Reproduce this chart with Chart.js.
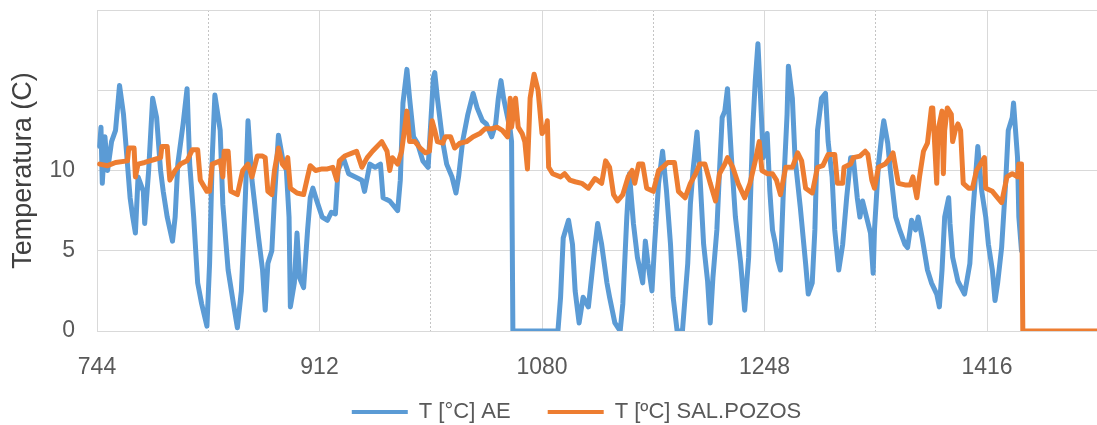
<!DOCTYPE html>
<html>
<head>
<meta charset="utf-8">
<script src="https://cdn.jsdelivr.net/npm/chart.js@4/dist/chart.umd.min.js"></script>
<style>
  html, body { margin: 0; padding: 0; background: #ffffff; }
  canvas { display: block; }
</style>
</head>
<body>
<canvas id="chart" width="1097" height="425"></canvas>
<script>
// Hourly temperature readings (hour of year, °C)
const aeHours = [746,747,748,750,752,755,758,761,764,767,769,771,773,775,779,780,783,786,789,792,794,797,801,803,805,809,812,814,817,820,823,827,829,831,833,837,839,843,847,850,853,856,858,861,866,869,871,873,876,878,881,884,887,889,890,893,895,897,900,903,905,907,910,914,918,921,924,926,930,934,939,944,946,950,954,958,960,965,971,973,975,978,980,983,986,990,994,998,999,1001,1005,1008,1012,1015,1017,1020,1024,1028,1031,1035,1038,1042,1045,1047,1049,1051,1054,1056,1057,1058,1092,1094,1096,1100,1103,1105,1108,1111,1115,1119,1122,1125,1129,1131,1135,1139,1141,1144,1146,1149,1152,1156,1158,1160,1163,1165,1168,1171,1174,1177,1179,1182,1186,1190,1192,1194,1197,1199,1202,1205,1207,1209,1212,1214,1216,1218,1220,1223,1226,1230,1233,1236,1239,1241,1243,1245,1247,1250,1252,1254,1256,1258,1260,1262,1265,1266,1269,1271,1275,1279,1281,1284,1286,1288,1291,1294,1296,1299,1301,1304,1307,1310,1313,1315,1318,1320,1322,1325,1328,1330,1331,1334,1337,1338,1341,1343,1347,1350,1354,1356,1359,1362,1364,1367,1371,1374,1378,1380,1382,1384,1387,1388,1390,1394,1399,1403,1405,1408,1409,1412,1415,1417,1420,1422,1424,1427,1430,1432,1435,1436,1439,1440,1442];
const aeTemps = [11.5,12.7,9.2,12.1,10.0,11.8,12.5,15.3,13.5,10.4,8.3,7.1,6.1,9.6,8.7,6.7,10.0,14.5,13.3,10.0,8.7,7.1,5.6,7.1,10.4,12.9,15.1,10.4,7.1,3.0,1.7,0.3,4.2,10.8,14.7,12.5,7.9,3.8,1.7,0.2,2.5,8.3,13.1,9.4,5.8,3.8,1.3,4.2,5.0,8.3,12.2,10.8,10.0,7.1,1.5,3.0,6.1,3.3,2.7,6.3,8.3,8.9,8.1,7.1,6.9,7.4,7.3,10.0,10.8,9.8,9.6,9.4,8.7,10.4,10.2,10.4,8.3,8.1,7.5,9.4,14.2,16.3,14.5,12.1,11.7,10.6,10.2,15.8,16.1,14.5,11.8,10.4,9.6,8.6,9.6,11.8,13.5,14.8,13.9,13.1,12.9,12.1,12.9,14.5,15.6,14.5,13.3,12.5,11.8,0,0,2.1,5.8,6.9,5.4,2.5,0.5,2.1,1.5,4.6,6.7,5.4,3.0,2.1,0.5,0,1.7,7.1,9.8,6.7,4.6,3.0,5.6,4.2,2.5,5.4,9.2,11.2,8.7,5.4,2.1,0,0,4.2,7.9,10.0,12.4,10.0,5.4,3.1,0.5,3.3,6.3,10.0,13.3,13.7,15.1,10.8,7.1,4.2,1.3,4.6,12.5,15.6,17.9,14.5,10.8,12.3,8.7,6.3,5.5,4.4,3.8,8.3,13.5,16.5,14.5,10.8,7.7,4.2,2.3,3.0,6.3,12.5,14.5,14.8,11.8,9.6,6.3,3.8,5.4,8.3,10.8,10.8,8.3,7.1,8.1,7.1,6.1,3.6,6.3,10.4,12.5,13.1,11.7,10.0,7.1,6.3,5.4,5.2,6.9,6.3,7.1,5.8,3.8,3.0,2.3,1.5,3.8,7.1,8.3,6.7,4.6,3.1,2.3,4.2,7.1,10.4,11.5,8.7,7.1,5.4,3.8,1.9,3.0,5.2,9.2,12.5,13.3,14.2,10.8,7.1,5.0];

const pozosHours = [746,752,758,767,768,772,773,775,780,788,792,793,797,798,799,803,807,812,816,820,822,827,829,831,837,839,840,843,845,850,854,858,861,865,869,871,873,876,878,881,884,886,888,890,895,900,903,905,909,914,918,922,925,927,931,937,940,944,948,952,959,963,965,967,971,974,978,980,984,988,992,995,997,999,1001,1005,1007,1011,1014,1018,1023,1028,1033,1037,1042,1046,1050,1054,1056,1057,1060,1062,1065,1067,1069,1071,1074,1077,1080,1083,1084,1085,1088,1094,1097,1101,1105,1110,1115,1120,1125,1128,1131,1134,1137,1141,1145,1148,1150,1153,1156,1159,1164,1168,1171,1175,1180,1183,1188,1192,1196,1199,1203,1207,1211,1214,1218,1220,1224,1228,1233,1237,1241,1244,1246,1250,1254,1257,1260,1264,1269,1273,1276,1279,1284,1288,1292,1296,1301,1303,1307,1308,1313,1315,1320,1324,1326,1329,1331,1334,1339,1343,1345,1349,1354,1358,1360,1363,1365,1368,1371,1374,1375,1378,1379,1382,1383,1384,1386,1389,1390,1392,1394,1396,1398,1402,1405,1408,1411,1414,1415,1420,1424,1427,1431,1435,1439,1440,1442,1443,1499];
const pozosTemps = [10.4,10.3,10.5,10.6,11.4,11.4,9.6,10.4,10.5,10.7,10.8,11.5,11.5,10.4,9.4,10.0,10.4,10.6,11.3,11.3,9.4,8.7,8.7,10.4,10.6,9.6,11.2,11.2,8.7,8.5,10.0,10.4,9.6,10.9,10.9,10.8,8.7,8.5,10.0,11.4,10.4,10.2,10.8,8.9,8.6,8.5,9.6,10.3,10.0,10.1,10.1,10.2,9.4,10.6,10.9,11.1,11.2,10.2,10.8,11.2,11.8,11.2,10.0,10.8,10.4,11.2,13.7,11.8,11.8,11.4,11.1,11.2,13.1,12.5,11.8,11.7,12.1,12.1,11.4,11.7,11.8,12.1,12.3,12.6,12.6,12.7,12.5,12.1,14.5,12.7,14.5,12.7,12.3,11.8,10.1,14.5,16.0,15.0,12.3,12.7,13.1,10.2,9.8,9.6,9.8,9.4,9.3,9.2,8.9,9.5,9.2,10.6,10.2,8.5,8.1,8.5,9.6,10.0,9.2,10.4,10.4,8.9,8.7,10.0,10.2,10.5,10.5,8.7,8.3,9.2,9.8,10.4,10.4,9.2,8.1,9.8,10.4,10.8,10.2,9.2,8.3,9.2,10.6,11.8,10.0,9.8,9.8,9.4,8.5,10.2,10.2,11.1,10.6,8.9,8.6,10.2,10.3,11.0,11.0,9.2,9.2,10.2,10.4,10.8,10.9,11.2,11.0,9.4,8.9,10.2,10.4,10.8,11.1,9.2,9.1,9.1,9.6,8.3,9.6,11.2,11.7,13.9,13.9,9.2,12.5,13.7,9.8,12.5,13.9,13.5,11.8,12.5,12.9,12.5,9.2,8.9,8.9,10.0,10.4,10.8,8.9,8.7,8.3,8.0,9.6,9.8,9.6,10.4,10.4,0,0];

// Axis ticks: one every 84 h, labels every 168 h
const xTickHours = [744, 828, 912, 996, 1080, 1164, 1248, 1332, 1416];
const xLabelHours = [744, 912, 1080, 1248, 1416];
const yLabelValues = [0, 5, 10];

const FONT = 'Liberation Sans, Arial, sans-serif';
const GRID = '#d9d9d9';
const TEXT = '#595959';

function toPoints(xs, ys) {
  return xs.map((x, i) => ({ x: x, y: ys[i] }));
}

new Chart(document.getElementById('chart'), {
  type: 'line',
  data: {
    datasets: [
      {
        label: 'T [°C] AE',
        data: toPoints(aeHours, aeTemps),
        borderColor: '#5B9BD5',
        backgroundColor: '#5B9BD5',
        borderWidth: 5,
        pointRadius: 0,
        tension: 0,
        borderJoinStyle: 'round',
        borderCapStyle: 'round',
        order: 2
      },
      {
        label: 'T [ºC] SAL.POZOS',
        data: toPoints(pozosHours, pozosTemps),
        borderColor: '#ED7D31',
        backgroundColor: '#ED7D31',
        borderWidth: 5,
        pointRadius: 0,
        tension: 0,
        borderJoinStyle: 'round',
        borderCapStyle: 'round',
        order: 1
      }
    ]
  },
  options: {
    responsive: false,
    animation: false,
    devicePixelRatio: 1,
    layout: { padding: { top: 10, left: 0, right: -56, bottom: -8 } },
    plugins: {
      tooltip: { enabled: false },
      legend: {
        position: 'bottom',
        labels: {
          font: { family: FONT, size: 22 },
          color: TEXT,
          boxWidth: 56,
          boxHeight: 4,
          padding: 37,
          sort: (a, b) => a.datasetIndex - b.datasetIndex,
          generateLabels: (chart) =>
            Chart.defaults.plugins.legend.labels.generateLabels(chart)
              .map(item => Object.assign(item, { lineWidth: 0 }))
        }
      }
    },
    scales: {
      x: {
        type: 'linear',
        min: 744,
        max: 1499,
        afterBuildTicks: (scale) => { scale.ticks = xTickHours.map(v => ({ value: v })); },
        afterFit: (scale) => {
          scale.height = 33;
          scale.paddingLeft = 0;
          scale.paddingRight = 0;
        },
        ticks: {
          autoSkip: false,
          maxRotation: 0,
          mirror: true,
          padding: -50,
          font: { family: FONT, size: 23 },
          color: TEXT,
          callback: (v) => (xLabelHours.includes(v) ? String(v) : '')
        },
        grid: {
          drawTicks: false,
          lineWidth: 1,
          color: (ctx) => (ctx.index % 2 ? '#c4c4c4' : GRID)
        },
        border: {
          color: GRID,
          dash: (ctx) => (ctx.index % 2 ? [2, 2] : [])
        }
      },
      y: {
        min: 0,
        max: 20,
        afterFit: (scale) => {
          scale.width = 97;
          scale.paddingTop = 0;
          scale.paddingBottom = 0;
        },
        ticks: {
          stepSize: 5,
          padding: 22,
          font: { family: FONT, size: 23 },
          color: TEXT,
          callback: (v) => (yLabelValues.includes(v) ? String(v) : '')
        },
        grid: { drawTicks: false, color: GRID, lineWidth: 1 },
        border: { color: GRID },
        title: {
          display: true,
          text: 'Temperatura (C)',
          font: { family: FONT, size: 27 },
          color: '#404040',
          padding: { top: 7, bottom: 0 }
        }
      }
    }
  }
});
</script>
</body>
</html>
